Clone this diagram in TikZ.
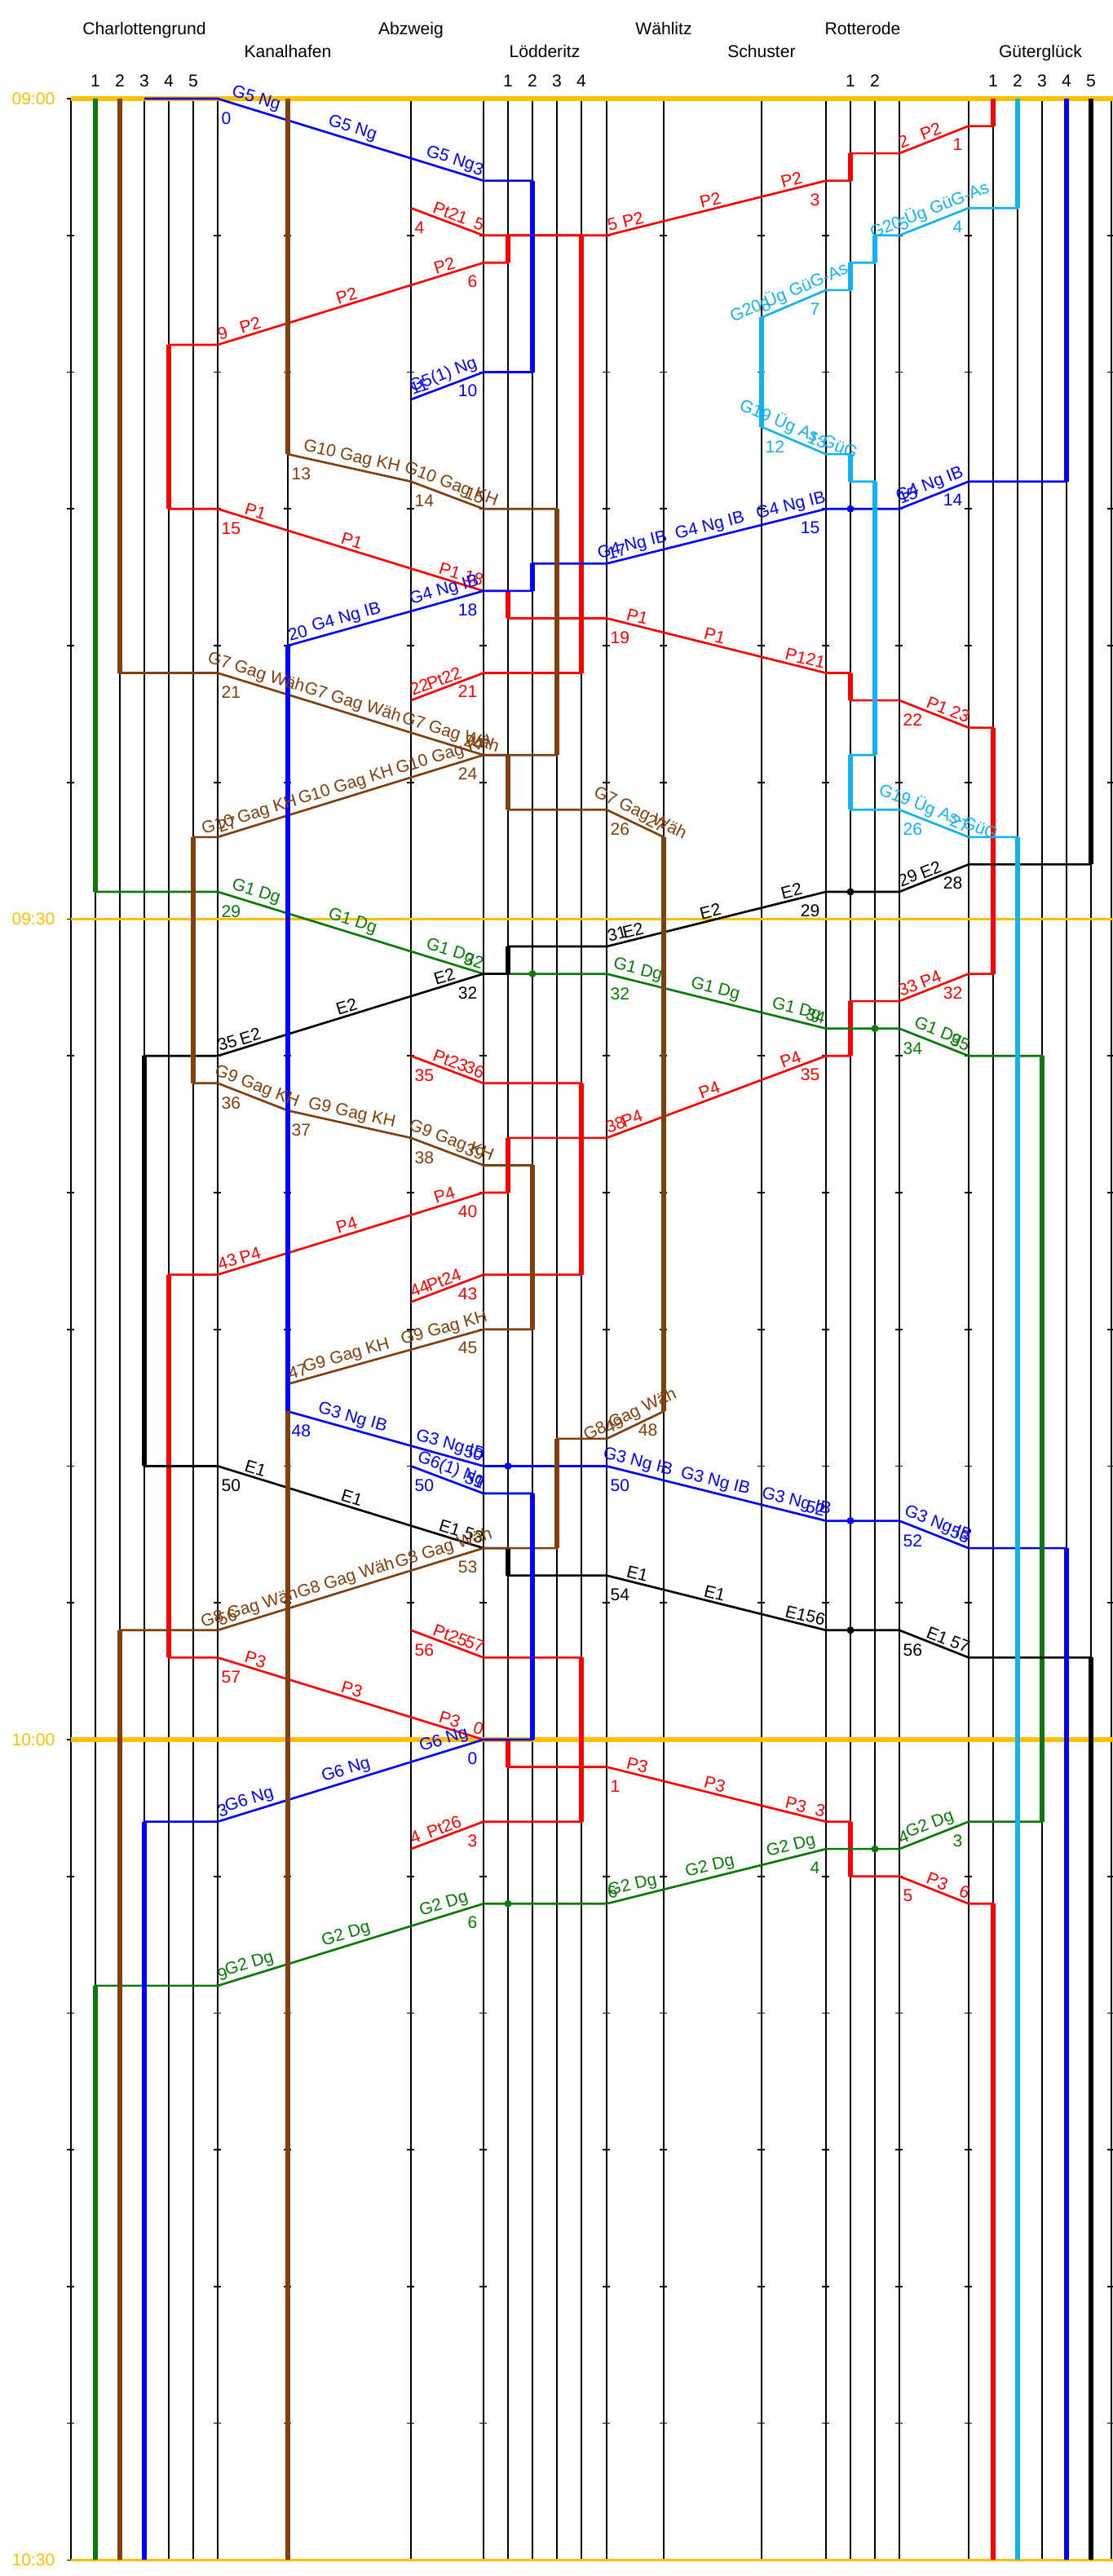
\documentclass[tikz,border=0pt]{standalone}
\usepackage{fontspec}
\setmainfont{Liberation Sans}
\usetikzlibrary{positioning}
\definecolor{hourGold}{HTML}{FFC000}
\definecolor{trainRed}{HTML}{FF0000}
\definecolor{trainBlue}{HTML}{0000FF}
\definecolor{trainGreen}{HTML}{0A780A}
\definecolor{trainBrown}{HTML}{7F3F0F}
\definecolor{trainCyan}{HTML}{12B2F0}
\newcommand{\chartfont}{\fontsize{6}{7.2}\selectfont}

\begin{document}
\begin{tikzpicture}[
    x=0.1mm, y=-3.355mm,
    every node/.style={font=\chartfont},
    grid/.style={draw=black, line width=0.45pt},
    run/.style={line width=0.75pt},
    occ/.style={line width=1.6pt},
    nm/.style={sloped, above, inner sep=0.9pt},
    arrR/.style={pos=1, sloped, anchor=south east, inner sep=1pt},
    arrL/.style={pos=0, sloped, anchor=south west, inner sep=1pt},
    depL/.style={pos=0, anchor=north west, inner sep=0pt, xshift=0.4mm, yshift=-1.6mm},
    depR/.style={pos=1, anchor=north east, inner sep=0pt, xshift=-0.7mm, yshift=-1.5mm},
]
\useasboundingbox (0,-3.607) rectangle (1365,90.584);
% Spalten: Cf 87 | C1..C5 117..237 | Cb 267 | K 353 | A 504 | Lb 593 | L1..L4 623..713 | Lb2 744
%          W 814 | S 934 | Rb 1013 | R1 1043 R2 1073 | Rb2 1103 | Gb 1188 | G1..G5 1218..1338 | Gf 1363
% Zeit: 1 Einheit = 1 Minute ab 09:00

% Kopf
\node[anchor=base] (charlottengrund) at (177,-2.34) {Charlottengrund};
\node[anchor=base] (abzweig)         at (504,-2.34) {Abzweig};
\node[anchor=base] (waehlitz)        at (814,-2.34) {Wählitz};
\node[anchor=base] (rotterode)       at (1058,-2.34) {Rotterode};
\node[anchor=base] (kanalhafen)      at (353,-1.52) {Kanalhafen};
\node[anchor=base] (loedderitz)      at (668,-1.52) {Lödderitz};
\node[anchor=base] (schuster)        at (934,-1.52) {Schuster};
\node[anchor=base] (gueterglueck)    at (1276,-1.52) {Güterglück};
\foreach \x/\n [count=\i] in {117/1,147/2,177/3,207/4,237/5,623/1,653/2,683/3,713/4,
                              1043/1,1073/2,1218/1,1248/2,1278/3,1308/4,1338/5}
  \node[anchor=base] (gleis\i) at (\x,-0.447) {\n};

% Gleise und Betriebsstellen mit 5-Minuten-Marken
\foreach \x in {117,147,177,207,237,623,653,683,713,1043,1073,1218,1248,1278,1308,1338}
  \draw[grid] (\x,0) -- (\x,90);
\foreach \x in {87,267,353,504,593,744,814,934,1013,1103,1188,1363}{
  \draw[grid] (\x,0) -- (\x,90);
  \foreach \t in {0,5,...,90}
    \draw[grid] (\x-4.5,\t) -- (\x+4.5,\t);
}

% Stundenlinien
\foreach \t/\lab/\w in {0/09:00/1.8pt, 30/09:30/0.9pt, 60/10:00/1.8pt, 90/10:30/0.9pt}{
  \draw[draw=hourGold, line width=\w] (87,\t) -- (1365,\t);
  \node[anchor=east, inner sep=0pt, text=hourGold] (zeit\t) at (68,\t) {\lab};
}

% ---- rot: P-Zuege
\draw[run, trainRed] (1218,0) -- (1218,1) -- (1188,1) -- (1103,2) -- (1043,2) -- (1043,3) -- (1013,3)
  -- (744,5) -- (623,5) -- (623,6) -- (593,6) -- (267,9) -- (207,9) -- (207,15) -- (267,15)
  -- (593,18) -- (623,18) -- (623,19) -- (744,19) -- (1013,21) -- (1043,21) -- (1043,22) -- (1103,22)
  -- (1188,23) -- (1218,23) -- (1218,32) -- (1188,32) -- (1103,33) -- (1043,33) -- (1043,35) -- (1013,35)
  -- (744,38) -- (623,38) -- (623,40) -- (593,40) -- (267,43) -- (207,43) -- (207,57) -- (267,57)
  -- (593,60) -- (623,60) -- (623,61) -- (744,61) -- (1013,63) -- (1043,63) -- (1043,65) -- (1103,65)
  -- (1188,66) -- (1218,66) -- (1218,90);
\draw[run, trainRed] (504,4) -- (593,5) -- (713,5) -- (713,21) -- (593,21) -- (504,22);
\draw[run, trainRed] (504,35) -- (593,36) -- (713,36) -- (713,43) -- (593,43) -- (504,44);
\draw[run, trainRed] (504,56) -- (593,57) -- (713,57) -- (713,63) -- (593,63) -- (504,64);
\draw[occ, trainRed] (1218,0) -- (1218,1) (1043,2) -- (1043,3) (623,5) -- (623,6) (207,9) -- (207,15)
  (623,18) -- (623,19) (1043,21) -- (1043,22) (1218,23) -- (1218,32) (1043,33) -- (1043,35)
  (623,38) -- (623,40) (207,43) -- (207,57) (623,60) -- (623,61) (1043,63) -- (1043,65) (1218,66) -- (1218,90)
  (713,5) -- (713,21) (713,36) -- (713,43) (713,57) -- (713,63);

% ---- blau: G-Zuege Ng
\draw[run, trainBlue] (177,0) -- (267,0) -- (593,3) -- (653,3) -- (653,10) -- (593,10) -- (504,11);
\draw[run, trainBlue] (1308,0) -- (1308,14) -- (1188,14) -- (1103,15) -- (1013,15) -- (744,17) -- (653,17)
  -- (653,18) -- (593,18) -- (353,20) -- (353,48) -- (593,50) -- (744,50) -- (1013,52) -- (1103,52)
  -- (1188,53) -- (1308,53) -- (1308,90);
\draw[run, trainBlue] (504,50) -- (593,51) -- (653,51) -- (653,60) -- (593,60) -- (267,63) -- (177,63) -- (177,90);

% ---- gruen: Dg
\draw[run, trainGreen] (117,0) -- (117,29) -- (267,29) -- (593,32) -- (744,32) -- (1013,34) -- (1103,34)
  -- (1188,35) -- (1278,35) -- (1278,63) -- (1188,63) -- (1103,64) -- (1013,64) -- (744,66) -- (593,66)
  -- (267,69) -- (117,69) -- (117,90);
\draw[occ, trainGreen] (117,0) -- (117,29) (1278,35) -- (1278,63) (117,69) -- (117,90);

% ---- schwarz: E
\draw[run] (1338,0) -- (1338,28) -- (1188,28) -- (1103,29) -- (1013,29) -- (744,31) -- (623,31) -- (623,32)
  -- (593,32) -- (267,35) -- (177,35) -- (177,50) -- (267,50) -- (593,53) -- (623,53) -- (623,54)
  -- (744,54) -- (1013,56) -- (1103,56) -- (1188,57) -- (1338,57) -- (1338,90);
\draw[occ] (1338,0) -- (1338,28) (623,31) -- (623,32) (177,35) -- (177,50) (623,53) -- (623,54) (1338,57) -- (1338,90);

% ---- braun: Gag
\draw[run, trainBrown] (147,0) -- (147,21) -- (267,21) -- (593,24) -- (623,24) -- (623,26) -- (744,26)
  -- (814,27) -- (814,48) -- (744,49) -- (683,49) -- (683,53) -- (593,53) -- (267,56) -- (147,56) -- (147,90);
\draw[run, trainBrown] (353,0) -- (353,13) -- (504,14) -- (593,15) -- (683,15) -- (683,24) -- (593,24)
  -- (267,27) -- (237,27) -- (237,36) -- (267,36) -- (353,37) -- (504,38) -- (593,39) -- (653,39)
  -- (653,45) -- (593,45) -- (353,47) -- (353,90);
\draw[occ, trainBrown] (147,0) -- (147,21) (623,24) -- (623,26) (814,27) -- (814,48) (683,49) -- (683,53)
  (147,56) -- (147,90) (353,0) -- (353,13) (683,15) -- (683,24) (237,27) -- (237,36) (653,39) -- (653,45)
  (353,47) -- (353,90);
\draw[occ, trainBlue] (653,3) -- (653,10) (1308,0) -- (1308,14) (653,17) -- (653,18) (353,20) -- (353,48)
  (1308,53) -- (1308,90) (653,51) -- (653,60) (177,63) -- (177,90);

% ---- hellblau: Ueg
\draw[run, trainCyan] (1248,0) -- (1248,4) -- (1188,4) -- (1103,5) -- (1073,5) -- (1073,6) -- (1043,6)
  -- (1043,7) -- (1013,7) -- (934,8) -- (934,12) -- (1013,13) -- (1043,13) -- (1043,14) -- (1073,14)
  -- (1073,24) -- (1043,24) -- (1043,26) -- (1103,26) -- (1188,27) -- (1248,27) -- (1248,90);
\draw[occ, trainCyan] (1248,0) -- (1248,4) (1073,5) -- (1073,6) (1043,6) -- (1043,7) (934,8) -- (934,12)
  (1043,13) -- (1043,14) (1073,14) -- (1073,24) (1043,24) -- (1043,26) (1248,27) -- (1248,90);

% Durchfahrten
\fill[trainBlue]  (1043,15) circle[radius=0.45mm] (623,50) circle[radius=0.45mm] (1043,52) circle[radius=0.45mm];
\fill[trainGreen] (653,32) circle[radius=0.45mm] (1073,34) circle[radius=0.45mm]
                  (1073,64) circle[radius=0.45mm] (623,66) circle[radius=0.45mm];
\fill (1043,29) circle[radius=0.45mm] (1043,56) circle[radius=0.45mm];

% ---- Beschriftung rot
\path[trainRed] (1103,2) -- node[nm,pos=.5]{P2} node[arrL]{2} node[depR]{1} (1188,1);
\path[trainRed] (744,5) -- node[nm,pos=.13]{P2} node[nm,pos=.483]{P2} node[nm,pos=.853]{P2} node[arrL]{5} node[depR]{3} (1013,3);
\path[trainRed] (267,9) -- node[nm,pos=.132]{P2} node[nm,pos=.495]{P2} node[nm,pos=.863]{P2} node[arrL]{9} node[depR]{6} (593,6);
\path[trainRed] (267,15) -- node[nm,pos=.132]{P1} node[nm,pos=.495]{P1} node[nm,pos=.863]{P1} node[depL]{15} node[arrR]{18} (593,18);
\path[trainRed] (744,19) -- node[nm,pos=.13]{P1} node[nm,pos=.483]{P1} node[nm,pos=.853]{P1} node[depL]{19} node[arrR]{21} (1013,21);
\path[trainRed] (1103,22) -- node[nm,pos=.5]{P1} node[depL]{22} node[arrR]{23} (1188,23);
\path[trainRed] (1103,33) -- node[nm,pos=.5]{P4} node[arrL]{33} node[depR]{32} (1188,32);
\path[trainRed] (744,38) -- node[nm,pos=.13]{P4} node[nm,pos=.483]{P4} node[nm,pos=.853]{P4} node[arrL]{38} node[depR]{35} (1013,35);
\path[trainRed] (267,43) -- node[nm,pos=.132]{P4} node[nm,pos=.495]{P4} node[nm,pos=.863]{P4} node[arrL]{43} node[depR]{40} (593,40);
\path[trainRed] (267,57) -- node[nm,pos=.132]{P3} node[nm,pos=.495]{P3} node[nm,pos=.863]{P3} node[depL]{57} node[arrR]{0} (593,60);
\path[trainRed] (744,61) -- node[nm,pos=.13]{P3} node[nm,pos=.483]{P3} node[nm,pos=.853]{P3} node[depL]{1} node[arrR]{3} (1013,63);
\path[trainRed] (1103,65) -- node[nm,pos=.5]{P3} node[depL]{5} node[arrR]{6} (1188,66);
\path[trainRed] (504,4) -- node[nm,pos=.5]{Pt21} node[depL]{4} node[arrR]{5} (593,5);
\path[trainRed] (504,22) -- node[nm,pos=.5]{Pt22} node[arrL]{22} node[depR]{21} (593,21);
\path[trainRed] (504,35) -- node[nm,pos=.5]{Pt23} node[depL]{35} node[arrR]{36} (593,36);
\path[trainRed] (504,44) -- node[nm,pos=.5]{Pt24} node[arrL]{44} node[depR]{43} (593,43);
\path[trainRed] (504,56) -- node[nm,pos=.5]{Pt25} node[depL]{56} node[arrR]{57} (593,57);
\path[trainRed] (504,64) -- node[nm,pos=.5]{Pt26} node[arrL]{4} node[depR]{3} (593,63);

% ---- Beschriftung blau
\path[trainBlue] (267,0) -- node[nm,pos=.132]{G5 Ng} node[nm,pos=.495]{G5 Ng} node[nm,pos=.863]{G5 Ng} node[depL]{0} node[arrR]{3} (593,3);
\path[trainBlue] (504,11) -- node[nm,pos=.5]{G5(1) Ng} node[arrL]{11} node[depR]{10} (593,10);
\path[trainBlue] (1103,15) -- node[nm,pos=.5]{G4 Ng IB} node[arrL]{15} node[depR]{14} (1188,14);
\path[trainBlue] (744,17) -- node[nm,pos=.13]{G4 Ng IB} node[nm,pos=.483]{G4 Ng IB} node[nm,pos=.853]{G4 Ng IB} node[arrL]{17} node[depR]{15} (1013,15);
\path[trainBlue] (353,20) -- node[nm,pos=.315]{G4 Ng IB} node[nm,pos=.815]{G4 Ng IB} node[arrL]{20} node[depR]{18} (593,18);
\path[trainBlue] (353,48) -- node[nm,pos=.315]{G3 Ng IB} node[nm,pos=.815]{G3 Ng IB} node[depL]{48} node[arrR]{50} (593,50);
\path[trainBlue] (744,50) -- node[nm,pos=.13]{G3 Ng IB} node[nm,pos=.483]{G3 Ng IB} node[nm,pos=.853]{G3 Ng IB} node[depL]{50} node[arrR]{52} (1013,52);
\path[trainBlue] (1103,52) -- node[nm,pos=.5]{G3 Ng IB} node[depL]{52} node[arrR]{53} (1188,53);
\path[trainBlue] (504,50) -- node[nm,pos=.5]{G6(1) Ng} node[depL]{50} node[arrR]{51} (593,51);
\path[trainBlue] (267,63) -- node[nm,pos=.132]{G6 Ng} node[nm,pos=.495]{G6 Ng} node[nm,pos=.863]{G6 Ng} node[arrL]{3} node[depR]{0} (593,60);

% ---- Beschriftung gruen
\path[trainGreen] (267,29) -- node[nm,pos=.132]{G1 Dg} node[nm,pos=.495]{G1 Dg} node[nm,pos=.863]{G1 Dg} node[depL]{29} node[arrR]{32} (593,32);
\path[trainGreen] (744,32) -- node[nm,pos=.13]{G1 Dg} node[nm,pos=.483]{G1 Dg} node[nm,pos=.853]{G1 Dg} node[depL]{32} node[arrR]{34} (1013,34);
\path[trainGreen] (1103,34) -- node[nm,pos=.5]{G1 Dg} node[depL]{34} node[arrR]{35} (1188,35);
\path[trainGreen] (1103,64) -- node[nm,pos=.5]{G2 Dg} node[arrL]{4} node[depR]{3} (1188,63);
\path[trainGreen] (744,66) -- node[nm,pos=.13]{G2 Dg} node[nm,pos=.483]{G2 Dg} node[nm,pos=.853]{G2 Dg} node[arrL]{6} node[depR]{4} (1013,64);
\path[trainGreen] (267,69) -- node[nm,pos=.132]{G2 Dg} node[nm,pos=.495]{G2 Dg} node[nm,pos=.863]{G2 Dg} node[arrL]{9} node[depR]{6} (593,66);

% ---- Beschriftung schwarz
\path (1103,29) -- node[nm,pos=.5]{E2} node[arrL]{29} node[depR]{28} (1188,28);
\path (744,31) -- node[nm,pos=.13]{E2} node[nm,pos=.483]{E2} node[nm,pos=.853]{E2} node[arrL]{31} node[depR]{29} (1013,29);
\path (267,35) -- node[nm,pos=.132]{E2} node[nm,pos=.495]{E2} node[nm,pos=.863]{E2} node[arrL]{35} node[depR]{32} (593,32);
\path (267,50) -- node[nm,pos=.132]{E1} node[nm,pos=.495]{E1} node[nm,pos=.863]{E1} node[depL]{50} node[arrR]{53} (593,53);
\path (744,54) -- node[nm,pos=.13]{E1} node[nm,pos=.483]{E1} node[nm,pos=.853]{E1} node[depL]{54} node[arrR]{56} (1013,56);
\path (1103,56) -- node[nm,pos=.5]{E1} node[depL]{56} node[arrR]{57} (1188,57);

% ---- Beschriftung braun
\path[trainBrown] (267,21) -- node[nm,pos=.132]{G7 Gag Wäh} node[nm,pos=.495]{G7 Gag Wäh} node[nm,pos=.863]{G7 Gag Wäh} node[depL]{21} node[arrR]{24} (593,24);
\path[trainBrown] (744,26) -- node[nm,pos=.5]{G7 Gag Wäh} node[depL]{26} node[arrR]{27} (814,27);
\path[trainBrown] (744,49) -- node[nm,pos=.5]{G8 Gag Wäh} node[arrL]{49} node[depR]{48} (814,48);
\path[trainBrown] (267,56) -- node[nm,pos=.132]{G8 Gag Wäh} node[nm,pos=.495]{G8 Gag Wäh} node[nm,pos=.863]{G8 Gag Wäh} node[arrL]{56} node[depR]{53} (593,53);
\path[trainBrown] (353,13) -- node[nm,pos=.5]{G10 Gag KH} node[depL]{13} (504,14);
\path[trainBrown] (504,14) -- node[nm,pos=.5]{G10 Gag KH} node[depL]{14} node[arrR]{15} (593,15);
\path[trainBrown] (267,27) -- node[nm,pos=.132]{G10 Gag KH} node[nm,pos=.495]{G10 Gag KH} node[nm,pos=.863]{G10 Gag KH} node[arrL]{27} node[depR]{24} (593,24);
\path[trainBrown] (267,36) -- node[nm,pos=.5]{G9 Gag KH} node[depL]{36} (353,37);
\path[trainBrown] (353,37) -- node[nm,pos=.5]{G9 Gag KH} node[depL]{37} (504,38);
\path[trainBrown] (504,38) -- node[nm,pos=.5]{G9 Gag KH} node[depL]{38} node[arrR]{39} (593,39);
\path[trainBrown] (353,47) -- node[nm,pos=.315]{G9 Gag KH} node[nm,pos=.815]{G9 Gag KH} node[arrL]{47} node[depR]{45} (593,45);

% ---- Beschriftung hellblau
\path[trainCyan] (1103,5) -- node[nm,pos=.5]{G20 Üg GüG-As} node[arrL]{5} node[depR]{4} (1188,4);
\path[trainCyan] (934,8) -- node[nm,pos=.5]{G20 Üg GüG-As} node[arrL]{8} node[depR]{7} (1013,7);
\path[trainCyan] (934,12) -- node[nm,pos=.5]{G19 Üg As-GüG} node[depL]{12} node[arrR]{13} (1013,13);
\path[trainCyan] (1103,26) -- node[nm,pos=.5]{G19 Üg As-GüG} node[depL]{26} node[arrR]{27} (1188,27);
\end{tikzpicture}
\end{document}
